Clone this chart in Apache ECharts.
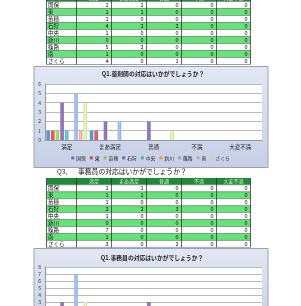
<!DOCTYPE html>
<html><head><meta charset="utf-8">
<script src="https://cdn.jsdelivr.net/npm/echarts@6/dist/echarts.min.js"></script>
<style>html,body{margin:0;padding:0;background:#fff;overflow:hidden}#c{width:301px;height:306px}</style>
</head><body><div id="c"></div>
<script>
const pharmacies = ['国保','東','苗穂','石狩','中央','新川','篠路','南','さくら'];
const categories = ['満足','まあ満足','普通','不満','大変不満'];
const q1Values = [[1,1,0,0,0],[1,1,0,0,0],[1,0,0,0,0],[4,2,2,0,0],[1,0,0,0,0],[0,0,0,0,0],[5,2,0,0,0],[1,0,0,0,0],[4,0,1,0,0]];
const q3Values = [[1,1,0,0,0],[1,1,0,0,0],[1,0,0,0,0],[3,2,3,0,0],[1,0,0,0,0],[0,0,0,0,0],[7,0,0,0,0],[1,0,0,0,0],[3,0,2,0,0]];
const q1Max = 6;
const q3Max = 8;
const chart1Title = 'Q1.薬剤師の対応はいかがでしょうか？';
const chart2Title = 'Q1.事務員の対応はいかがでしょうか？';
const q3Label = 'Q3,';
const q3Heading = '事務員の対応はいかがでしょうか？';
const colors = ['#4F81BD','#C0504D','#9BBB59','#8064A2','#4BACC6','#F79646','#8BA6D6','#DE9C9A','#C3D69B'];

const FONT = '"Noto Sans CJK JP"';
const cols = [46.5,76.5,111.5,146.5,181.5,216.5,250.5];

function tableEls(headerTop, top, rowH, values) {
  const els = [];
  const W = cols[6]-cols[0];
  els.push({type:'rect', shape:{x:cols[0], y:headerTop, width:W, height:top-headerTop}, style:{fill:'#1f8a37'}});
  categories.forEach((c,i)=>{
    els.push({type:'text', style:{text:c, x:(cols[i+1]+cols[i+2])/2, y:(headerTop+top)/2, align:'center', verticalAlign:'middle', fill:'#d6f5cf', font:'5px '+FONT}});
  });
  pharmacies.forEach((p,r)=>{
    const y = top + r*rowH;
    els.push({type:'rect', shape:{x:cols[0], y:y, width:W, height:rowH}, style:{fill: r%2 ? '#62e479' : '#ffffff'}});
    els.push({type:'text', style:{text:p, x:cols[0]+1.5, y:y+rowH/2, align:'left', verticalAlign:'middle', fill:'#111', font:'5.5px '+FONT}});
    values[r].forEach((v,i)=>{
      els.push({type:'text', style:{text:String(v), x:cols[i+2]-3, y:y+rowH/2, align:'right', verticalAlign:'middle', fill:'#111', font:'5.5px '+FONT}});
    });
  });
  const bottom = top + rowH*pharmacies.length;
  for (let r=0; r<=pharmacies.length; r++) {
    const y = top + r*rowH;
    els.push({type:'line', shape:{x1:cols[0], y1:y, x2:cols[6], y2:y}, style:{stroke:'#444', lineWidth:0.5}});
  }
  cols.forEach(x=>{
    els.push({type:'line', shape:{x1:x, y1:headerTop, x2:x, y2:bottom}, style:{stroke:'#222', lineWidth:0.7}});
  });
  return els;
}

function boxEl(y, h) {
  return {type:'rect', z:-10, shape:{x:34, y:y, width:234, height:h},
    style:{stroke:'#9aa3b5', lineWidth:1,
      fill:new echarts.graphic.LinearGradient(0,0,0,1,[{offset:0,color:'#e2e7f3'},{offset:1,color:'#c6cfe7'}])}};
}

function barColor(c) {
  return new echarts.graphic.LinearGradient(0,0,1,0,[
    {offset:0,color:echarts.color.lift(c,0.1)},
    {offset:0.5,color:echarts.color.lift(c,-0.2)},
    {offset:1,color:c}]);
}

const graphics = [].concat(
  tableEls(-5.5, 1.5, 7, q1Values),
  [boxEl(66.5, 101)],
  [{type:'text', style:{text:chart1Title, x:153, y:74, align:'center', verticalAlign:'middle', fill:'#222', font:'bold 5.8px '+FONT}}],
  [{type:'text', style:{text:q3Label, x:57, y:171.5, align:'left', verticalAlign:'middle', fill:'#222', font:'6.5px '+FONT}},
   {type:'text', style:{text:q3Heading, x:78, y:171.5, align:'left', verticalAlign:'middle', fill:'#111', font:'6.8px '+FONT}}],
  tableEls(178, 184.8, 6.95, q3Values),
  [boxEl(248.5, 80)],
  [{type:'text', style:{text:chart2Title, x:152, y:258, align:'center', verticalAlign:'middle', fill:'#222', font:'bold 5.8px '+FONT}}]
);

function yAxis(gi, max) {
  return {type:'value', gridIndex:gi, min:0, max:max, interval:1,
    axisLabel:{fontSize:5, color:'#333', margin:4, fontFamily:FONT},
    axisLine:{show:true, lineStyle:{color:'#999', width:1}},
    axisTick:{show:false},
    splitLine:{lineStyle:{color:'#bbb', width:1}}};
}
function xAxis(gi) {
  return {type:'category', gridIndex:gi, data:categories,
    axisLabel:{fontSize:5.5, color:'#222', margin:4, fontFamily:FONT, interval:0},
    axisLine:{lineStyle:{color:'#999'}}, axisTick:{show:false}};
}

const series = [];
[q1Values, q3Values].forEach((vals, gi)=>{
  pharmacies.forEach((p,i)=>{
    series.push({type:'bar', name:p, xAxisIndex:gi, yAxisIndex:gi, data:vals[i],
      barGap:'30%', barCategoryGap:'6%',
      itemStyle:{color:barColor(colors[i])}, emphasis:{disabled:true}});
  });
});

const chart = echarts.init(document.getElementById('c'), null, {renderer:'canvas'});
chart.setOption({
  animation:false,
  color:colors,
  graphic:{elements:graphics},
  grid:[
    {left:45, top:84, right:39, bottom:166, show:true, backgroundColor:'#fff', borderWidth:0, containLabel:false, outerBoundsMode:'none'},
    {left:45, top:267, right:39, bottom:-17, show:true, backgroundColor:'#fff', borderWidth:0, containLabel:false, outerBoundsMode:'none'}
  ],
  xAxis:[xAxis(0), xAxis(1)],
  yAxis:[yAxis(0,q1Max), yAxis(1,q3Max)],
  legend:{data:pharmacies.map((p,i)=>({name:p, itemStyle:{color:colors[i]}})), top:155.5, left:'center', padding:0,
    itemWidth:3, itemHeight:3, itemGap:4, icon:'rect',
    textStyle:{fontSize:4.8, color:'#222', fontFamily:FONT, padding:[0,0,0,-3]}},
  series:series
});
</script></body></html>
